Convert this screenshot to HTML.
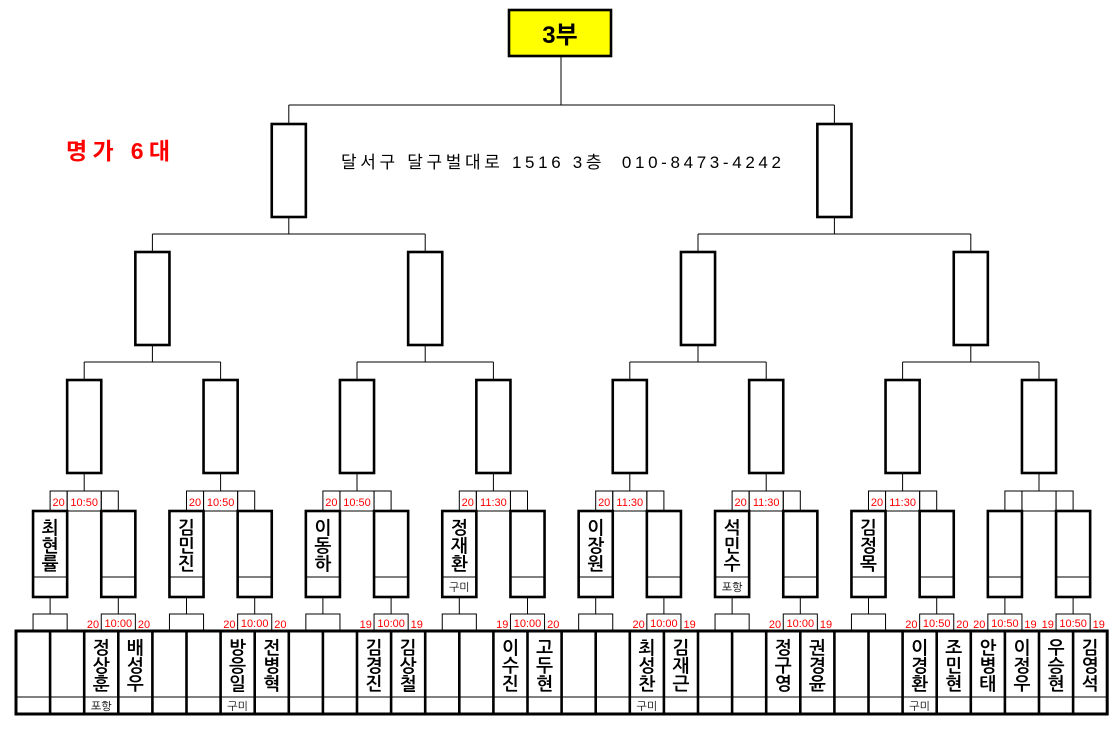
<!DOCTYPE html>
<html><head><meta charset="utf-8"><style>
html,body{margin:0;padding:0;background:#fff;width:1118px;height:729px;overflow:hidden}
svg{display:block}
text{font-family:"Liberation Sans","Noto Sans CJK KR",sans-serif}
.n{font-size:18px;fill:#000;text-anchor:middle;font-family:"NanumGothic","Noto Sans CJK KR",sans-serif;font-weight:bold}
.r{font-size:11px;fill:#f00;text-anchor:middle}
.s{font-size:11px;fill:#000;text-anchor:middle;font-family:"NanumGothic","Noto Sans CJK KR",sans-serif}
.T{fill:none;stroke:#000;stroke-width:2.6}
.t{fill:none;stroke:#000;stroke-width:1}
</style></head><body>
<svg width="1118" height="729" viewBox="0 0 1118 729" xmlns="http://www.w3.org/2000/svg">
<defs>
<g id="grp">
<line class="t" x1="68.2" y1="362" x2="68.2" y2="380"/>
<rect class="T" x="51.15" y="380" width="34.1" height="93"/>
<line class="t" x1="68.2" y1="473" x2="68.2" y2="491"/>
<rect class="t" x="34.1" y="491" width="17.05" height="20"/>
<rect class="t" x="51.15" y="491" width="34.1" height="20"/>
<rect class="t" x="85.25" y="491" width="17.05" height="20"/>
<rect class="T" x="17.05" y="511" width="34.1" height="86"/>
<line class="t" x1="17.05" y1="577" x2="51.15" y2="577"/>
<rect class="T" x="85.25" y="511" width="34.1" height="86"/>
<line class="t" x1="85.25" y1="577" x2="119.35" y2="577"/>
<line class="t" x1="34.1" y1="597" x2="34.1" y2="614"/>
<line class="t" x1="102.3" y1="597" x2="102.3" y2="614"/>
<rect class="t" x="17.05" y="614" width="34.1" height="17"/>
<rect class="t" x="85.25" y="614" width="34.1" height="17"/>
<line class="T" x1="0" y1="631" x2="0" y2="714"/>
<line class="T" x1="34.1" y1="631" x2="34.1" y2="714"/>
<line class="T" x1="68.2" y1="631" x2="68.2" y2="714"/>
<line class="T" x1="102.3" y1="631" x2="102.3" y2="714"/>
<line class="t" x1="0" y1="697" x2="136.4" y2="697"/>
</g>
</defs>
<rect x="509" y="10" width="102" height="46" fill="#ff0" stroke="#000" stroke-width="2.6"/>
<text x="560" y="43" font-size="24" font-weight="bold" text-anchor="middle" font-family="Liberation Sans,NanumGothic,Noto Sans CJK KR,sans-serif">3부</text>
<line class="t" x1="561" y1="56" x2="561" y2="105"/>
<line class="t" x1="288.8" y1="105" x2="834.4" y2="105"/>
<line class="t" x1="288.8" y1="105" x2="288.8" y2="124"/>
<line class="t" x1="834.4" y1="105" x2="834.4" y2="124"/>
<rect class="T" x="271.75" y="124" width="34.1" height="93"/>
<rect class="T" x="817.35" y="124" width="34.1" height="93"/>
<line class="t" x1="288.8" y1="217" x2="288.8" y2="234"/>
<line class="t" x1="834.4" y1="217" x2="834.4" y2="234"/>
<line class="t" x1="152.4" y1="234" x2="425.2" y2="234"/>
<line class="t" x1="698" y1="234" x2="970.8" y2="234"/>
<line class="t" x1="152.4" y1="234" x2="152.4" y2="252"/>
<line class="t" x1="425.2" y1="234" x2="425.2" y2="252"/>
<line class="t" x1="698" y1="234" x2="698" y2="252"/>
<line class="t" x1="970.8" y1="234" x2="970.8" y2="252"/>
<rect class="T" x="135.35" y="252" width="34.1" height="93"/>
<rect class="T" x="408.15" y="252" width="34.1" height="93"/>
<rect class="T" x="680.95" y="252" width="34.1" height="93"/>
<rect class="T" x="953.75" y="252" width="34.1" height="93"/>
<line class="t" x1="152.4" y1="345" x2="152.4" y2="362"/>
<line class="t" x1="425.2" y1="345" x2="425.2" y2="362"/>
<line class="t" x1="698" y1="345" x2="698" y2="362"/>
<line class="t" x1="970.8" y1="345" x2="970.8" y2="362"/>
<line class="t" x1="84.2" y1="362" x2="220.6" y2="362"/>
<line class="t" x1="357" y1="362" x2="493.4" y2="362"/>
<line class="t" x1="629.8" y1="362" x2="766.2" y2="362"/>
<line class="t" x1="902.6" y1="362" x2="1039" y2="362"/>
<text x="66" y="159" font-size="23" font-weight="bold" fill="#f00" font-family="NanumGothic,Noto Sans CJK KR,sans-serif" textLength="104">명가 6대</text>
<text x="341" y="168" font-size="17" fill="#000" font-family="NanumGothic,Noto Sans CJK KR,sans-serif" textLength="440">달서구 달구벌대로 1516 3층&#160;&#160;010-8473-4242</text>
<use href="#grp" x="16"/><use href="#grp" x="152.4"/><use href="#grp" x="288.8"/><use href="#grp" x="425.2"/>
<use href="#grp" x="561.6"/><use href="#grp" x="698"/><use href="#grp" x="834.4"/><use href="#grp" x="970.8"/>
<rect x="16" y="631" width="1091.2" height="83" fill="none" stroke="#000" stroke-width="3"/>

<g transform="translate(16,0)">
<text class="r" x="42.6" y="506">20</text><text class="r" x="68.2" y="506">10:50</text>
<text class="n"><tspan x="34.1" y="534">최</tspan><tspan x="34.1" y="552">현</tspan><tspan x="34.1" y="570">률</tspan></text>
<text class="r" x="77" y="628">20</text><text class="r" x="102.3" y="627">10:00</text><text class="r" x="128" y="628">20</text>
<text class="n"><tspan x="85.25" y="654">정</tspan><tspan x="85.25" y="672">상</tspan><tspan x="85.25" y="690">훈</tspan></text>
<text class="n"><tspan x="119.35" y="654">배</tspan><tspan x="119.35" y="672">성</tspan><tspan x="119.35" y="690">우</tspan></text>
<text class="s" x="85.25" y="710">포항</text>
</g>
<g transform="translate(152.4,0)">
<text class="r" x="42.6" y="506">20</text><text class="r" x="68.2" y="506">10:50</text>
<text class="n"><tspan x="34.1" y="534">김</tspan><tspan x="34.1" y="552">민</tspan><tspan x="34.1" y="570">진</tspan></text>
<text class="r" x="77" y="628">20</text><text class="r" x="102.3" y="627">10:00</text><text class="r" x="128" y="628">20</text>
<text class="n"><tspan x="85.25" y="654">방</tspan><tspan x="85.25" y="672">응</tspan><tspan x="85.25" y="690">일</tspan></text>
<text class="n"><tspan x="119.35" y="654">전</tspan><tspan x="119.35" y="672">병</tspan><tspan x="119.35" y="690">혁</tspan></text>
<text class="s" x="85.25" y="710">구미</text>
</g>
<g transform="translate(288.8,0)">
<text class="r" x="42.6" y="506">20</text><text class="r" x="68.2" y="506">10:50</text>
<text class="n"><tspan x="34.1" y="534">이</tspan><tspan x="34.1" y="552">동</tspan><tspan x="34.1" y="570">하</tspan></text>
<text class="r" x="77" y="628">19</text><text class="r" x="102.3" y="627">10:00</text><text class="r" x="128" y="628">19</text>
<text class="n"><tspan x="85.25" y="654">김</tspan><tspan x="85.25" y="672">경</tspan><tspan x="85.25" y="690">진</tspan></text>
<text class="n"><tspan x="119.35" y="654">김</tspan><tspan x="119.35" y="672">상</tspan><tspan x="119.35" y="690">철</tspan></text>
</g>
<g transform="translate(425.2,0)">
<text class="r" x="42.6" y="506">20</text><text class="r" x="68.2" y="506">11:30</text>
<text class="n"><tspan x="34.1" y="534">정</tspan><tspan x="34.1" y="552">재</tspan><tspan x="34.1" y="570">환</tspan></text>
<text class="s" x="34.1" y="591">구미</text>
<text class="r" x="77" y="628">19</text><text class="r" x="102.3" y="627">10:00</text><text class="r" x="128" y="628">20</text>
<text class="n"><tspan x="85.25" y="654">이</tspan><tspan x="85.25" y="672">수</tspan><tspan x="85.25" y="690">진</tspan></text>
<text class="n"><tspan x="119.35" y="654">고</tspan><tspan x="119.35" y="672">두</tspan><tspan x="119.35" y="690">현</tspan></text>
</g>
<g transform="translate(561.6,0)">
<text class="r" x="42.6" y="506">20</text><text class="r" x="68.2" y="506">11:30</text>
<text class="n"><tspan x="34.1" y="534">이</tspan><tspan x="34.1" y="552">장</tspan><tspan x="34.1" y="570">원</tspan></text>
<text class="r" x="77" y="628">20</text><text class="r" x="102.3" y="627">10:00</text><text class="r" x="128" y="628">19</text>
<text class="n"><tspan x="85.25" y="654">최</tspan><tspan x="85.25" y="672">성</tspan><tspan x="85.25" y="690">찬</tspan></text>
<text class="n"><tspan x="119.35" y="654">김</tspan><tspan x="119.35" y="672">재</tspan><tspan x="119.35" y="690">근</tspan></text>
<text class="s" x="85.25" y="710">구미</text>
</g>
<g transform="translate(698,0)">
<text class="r" x="42.6" y="506">20</text><text class="r" x="68.2" y="506">11:30</text>
<text class="n"><tspan x="34.1" y="534">석</tspan><tspan x="34.1" y="552">민</tspan><tspan x="34.1" y="570">수</tspan></text>
<text class="s" x="34.1" y="591">포항</text>
<text class="r" x="77" y="628">20</text><text class="r" x="102.3" y="627">10:00</text><text class="r" x="128" y="628">19</text>
<text class="n"><tspan x="85.25" y="654">정</tspan><tspan x="85.25" y="672">구</tspan><tspan x="85.25" y="690">영</tspan></text>
<text class="n"><tspan x="119.35" y="654">권</tspan><tspan x="119.35" y="672">경</tspan><tspan x="119.35" y="690">윤</tspan></text>
</g>
<g transform="translate(834.4,0)">
<text class="r" x="42.6" y="506">20</text><text class="r" x="68.2" y="506">11:30</text>
<text class="n"><tspan x="34.1" y="534">김</tspan><tspan x="34.1" y="552">정</tspan><tspan x="34.1" y="570">목</tspan></text>
<text class="r" x="77" y="628">20</text><text class="r" x="102.3" y="627">10:50</text><text class="r" x="128" y="628">20</text>
<text class="n"><tspan x="85.25" y="654">이</tspan><tspan x="85.25" y="672">경</tspan><tspan x="85.25" y="690">환</tspan></text>
<text class="n"><tspan x="119.35" y="654">조</tspan><tspan x="119.35" y="672">민</tspan><tspan x="119.35" y="690">현</tspan></text>
<text class="s" x="85.25" y="710">구미</text>
</g>
<g transform="translate(970.8,0)">
<text class="r" x="8.5" y="628">20</text><text class="r" x="34.1" y="627">10:50</text><text class="r" x="59.7" y="628">19</text>
<text class="r" x="77" y="628">19</text><text class="r" x="102.3" y="627">10:50</text><text class="r" x="128" y="628">19</text>
<text class="n"><tspan x="17.05" y="654">안</tspan><tspan x="17.05" y="672">병</tspan><tspan x="17.05" y="690">태</tspan></text>
<text class="n"><tspan x="51.15" y="654">이</tspan><tspan x="51.15" y="672">정</tspan><tspan x="51.15" y="690">우</tspan></text>
<text class="n"><tspan x="85.25" y="654">우</tspan><tspan x="85.25" y="672">승</tspan><tspan x="85.25" y="690">현</tspan></text>
<text class="n"><tspan x="119.35" y="654">김</tspan><tspan x="119.35" y="672">영</tspan><tspan x="119.35" y="690">석</tspan></text>
</g>
</svg>
</body></html>
